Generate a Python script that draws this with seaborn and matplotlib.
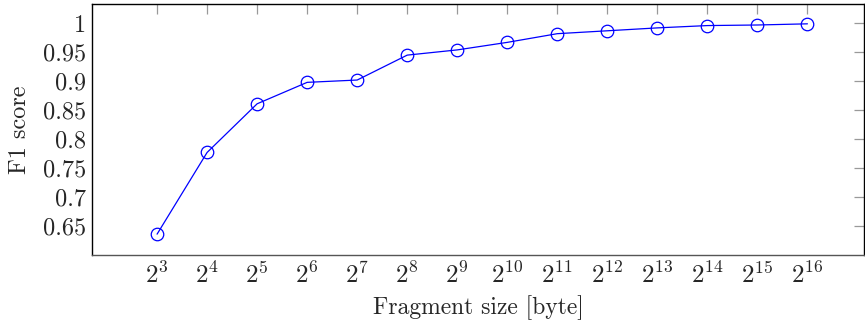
import pandas as pd
import numpy as np
import matplotlib.pyplot as plt
import seaborn as sns

sns.set_theme(style='white')
plt.rcParams['font.family'] = ['serif']
plt.rcParams['font.serif'] = ['cmr10', 'DejaVu Serif']
plt.rcParams['mathtext.fontset'] = 'cm'
plt.rcParams['axes.formatter.use_mathtext'] = True

exponents = [3, 4, 5, 6, 7, 8, 9, 10, 11, 12, 13, 14, 15, 16]
f1_scores = [0.636, 0.777, 0.861, 0.898, 0.902, 0.945, 0.954, 0.967,
             0.982, 0.987, 0.992, 0.996, 0.997, 0.999]
y_ticks = [0.65, 0.7, 0.75, 0.8, 0.85, 0.9, 0.95, 1.0]
y_tick_labels = ['0.65', '0.7', '0.75', '0.8', '0.85', '0.9', '0.95', '1']

df = pd.DataFrame({'exp': exponents, 'f1': f1_scores})

fig = plt.figure(figsize=(8.65, 3.23), dpi=100)
ax = fig.add_axes([0.1064, 0.2105, 0.8924, 0.7785])

sns.lineplot(data=df, x='exp', y='f1', ax=ax, color='blue', linewidth=0.9,
             marker='o', markersize=9, markerfacecolor='none',
             markeredgecolor='blue', markeredgewidth=0.9)

ax.set_xlim(1.7, 17.13)
ax.set_ylim(0.60, 1.034)
ax.set_xticks(exponents)
ax.set_xticklabels([f'$2^{{{e}}}$' for e in exponents], fontsize=18)
ax.set_yticks(y_ticks)
ax.set_yticklabels(y_tick_labels, fontsize=17.5)
ax.set_xlabel('Fragment size [byte]', fontsize=17, labelpad=5)
ax.set_ylabel('F1 score', fontsize=17.5, labelpad=9)

ax.tick_params(axis='both', direction='in', length=7, width=0.9,
               color='#999999', top=True, right=True)
ax.tick_params(axis='y', pad=4)
ax.tick_params(axis='x', pad=5)
for s in ax.spines.values():
    s.set_color('black')
    s.set_linewidth(1.0)
ax.spines['bottom'].set_color('#555555')

fig.savefig('out.png', dpi=100)
